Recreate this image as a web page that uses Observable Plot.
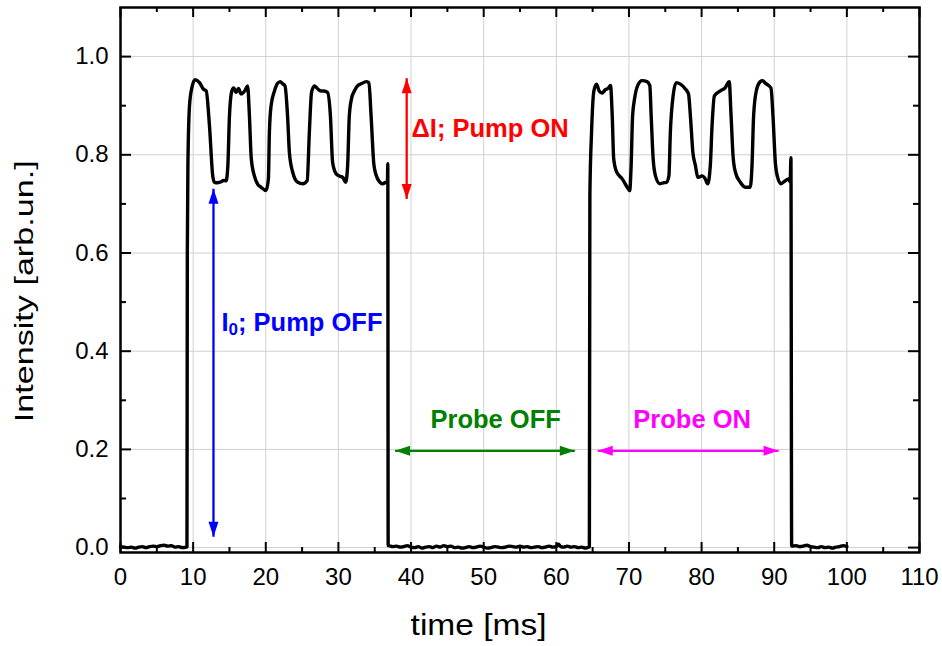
<!DOCTYPE html>
<html>
<head>
<meta charset="utf-8">
<script src="https://cdn.jsdelivr.net/npm/d3@7"></script>
<script src="https://cdn.jsdelivr.net/npm/@observablehq/plot@0.6"></script>
<style>
  html, body { margin: 0; padding: 0; background: #fff; }
  #chart { width: 942px; height: 646px; }
</style>
</head>
<body>
<div id="chart"></div>
<script>
// ---------- data (time in ms, intensity in arb. units) ----------
const baselineBefore = [[0,0.002],[0.5,0.001],[1,0.000],[1.5,0.001],[2,-0.001],[2.5,0.001],[3,0.002],[3.5,0.000],[4,0.002],[4.5,0.003],[5,0.002],[5.5,0.004],[6,0.005],[6.5,0.003],[7,0.004],[7.5,0.001],[8,0.002],[8.5,0.000],[9.1,0.001]];
const pulse1 = [[9.15,0.002],[9.2,0.60],[9.28,0.78],[9.5,0.90],[9.83,0.937],[10.28,0.953],[10.88,0.947],[11.4,0.934],[11.8,0.93],[12.25,0.859],[12.7,0.757],[12.94,0.744],[13.4,0.743],[13.86,0.745],[14.2,0.748],[14.54,0.747],[14.78,0.778],[15.0,0.879],[15.33,0.93],[15.6,0.936],[15.9,0.927],[16.25,0.935],[16.6,0.924],[17.1,0.93],[17.5,0.94],[17.75,0.879],[18.0,0.793],[18.43,0.757],[18.9,0.74],[19.35,0.734],[20.04,0.727],[20.36,0.751],[20.5,0.846],[20.73,0.90],[21.2,0.93],[21.6,0.945],[22.0,0.949],[22.3,0.945],[22.65,0.94],[23.0,0.879],[23.25,0.805],[23.7,0.765],[24.4,0.744],[25.1,0.741],[25.7,0.747],[26.0,0.846],[26.3,0.927],[26.7,0.94],[27.1,0.935],[27.6,0.93],[28.0,0.93],[28.5,0.927],[28.9,0.879],[29.2,0.785],[29.66,0.762],[30.1,0.757],[30.6,0.754],[31.0,0.744],[31.27,0.778],[31.5,0.879],[31.8,0.914],[32.2,0.93],[32.6,0.94],[33.2,0.945],[33.8,0.949],[34.2,0.947],[34.5,0.879],[34.9,0.778],[35.4,0.751],[36.1,0.741],[36.5,0.744],[36.75,0.745],[36.8,0.782],[36.85,0.004]];
const baselineBetween = [[36.9,0.004],[37.5,0.002],[38,0.003],[38.5,0.001],[39,0.002],[39.5,0.004],[40,0.001],[40.5,0.000],[41,0.002],[41.5,-0.001],[42,0.001],[42.5,0.002],[43,0.000],[43.5,0.003],[44,0.001],[44.5,0.004],[45,0.002],[45.5,0.003],[46,0.000],[46.5,0.001],[47,-0.001],[47.5,0.000],[48,0.002],[48.5,0.000],[49,0.001],[49.5,0.003],[50,0.001],[50.5,-0.001],[51,0.000],[51.5,0.002],[52,0.001],[52.5,0.000],[53,0.001],[53.5,0.003],[54,0.002],[54.5,0.001],[55,0.003],[55.5,0.001],[56,0.002],[56.5,0.000],[57,0.001],[57.5,0.002],[58,0.000],[58.5,0.001],[59,0.003],[59.5,0.001],[60,0.002],[60.3,0.007],[60.6,0.002],[61,0.001],[61.5,0.003],[62,0.001],[62.5,0.002],[63,0.000],[63.5,0.001],[64,-0.001],[64.5,0.001]];
const pulse2 = [[64.55,0.001],[64.62,0.717],[64.85,0.846],[65.17,0.93],[65.54,0.944],[65.9,0.93],[66.3,0.926],[66.78,0.933],[67.1,0.935],[67.46,0.941],[67.7,0.879],[67.9,0.792],[68.3,0.765],[69.07,0.751],[69.76,0.734],[70.1,0.727],[70.3,0.778],[70.5,0.879],[70.77,0.914],[71.2,0.941],[71.8,0.951],[72.5,0.949],[72.87,0.941],[73.06,0.879],[73.33,0.792],[73.65,0.757],[74.25,0.741],[74.7,0.743],[75.16,0.744],[75.5,0.757],[75.7,0.846],[76.08,0.92],[76.5,0.947],[77.08,0.944],[77.77,0.934],[78.2,0.924],[78.46,0.879],[78.8,0.805],[79.15,0.778],[79.47,0.754],[80.07,0.757],[80.5,0.751],[80.84,0.741],[81.2,0.778],[81.44,0.859],[81.76,0.92],[82.58,0.93],[83.27,0.937],[83.8,0.949],[84.06,0.879],[84.33,0.798],[84.65,0.765],[85.33,0.744],[86.0,0.734],[86.7,0.734],[86.94,0.778],[87.16,0.879],[87.53,0.93],[88.08,0.949],[88.4,0.951],[88.77,0.946],[89.55,0.936],[89.83,0.879],[90.15,0.785],[90.47,0.754],[90.93,0.741],[91.5,0.747],[91.97,0.751],[92.2,0.745],[92.3,0.794],[92.4,0.003]];
const baselineAfter = [[92.45,0.003],[93,0.004],[93.5,0.002],[94,0.003],[94.5,0.005],[95,0.002],[95.5,0.001],[96,0.000],[96.5,0.002],[97,0.000],[97.5,0.001],[98,-0.001],[98.5,0.001],[99,0.002],[99.5,0.004],[100,0.002]];

// axis ticks
const xMajorTicks = [0,10,20,30,40,50,60,70,80,90,100,110];
const xMinorTicks = [5,15,25,35,45,55,65,75,85,95,105];
const yMajorTicks = [0,0.2,0.4,0.6,0.8,1.0];
const yMinorTicks = [0.1,0.3,0.5,0.7,0.9];

// annotations
const annoLabels = ["ΔI; Pump ON", "I0; Pump OFF", "Probe OFF", "Probe ON"];
const annoColors = ["#ff0000", "#0000ff", "#008000", "#ff00ff"];
const annoLabelX = [40.06, 13.9, 51.65, 78.7];
const annoLabelY = [0.853, 0.457, 0.26, 0.26];
const annoAnchor = ["start", "start", "middle", "middle"];
const arrowX1 = [39.4, 12.8, 37.8, 65.7];
const arrowY1 = [0.710, 0.022, 0.197, 0.197];
const arrowX2 = [39.4, 12.8, 62.55, 90.6];
const arrowY2 = [0.956, 0.731, 0.197, 0.197];

const axisTitleX = "time [ms]";
const axisTitleY = "Intensity [arb.un.]";

// ---------- build ----------
const trace = [...baselineBefore, ...pulse1, ...baselineBetween, ...pulse2, ...baselineAfter]
  .map(([t, v]) => ({t, v}));

const W = 942, H = 646, mL = 120, mR = 23, mT = 7, mB = 94;
const plotW = W - mL - mR, plotH = H - mT - mB;

// filled, elongated arrowhead with its tip at the origin, pointing up
const headSymbol = {
  draw(ctx) {
    ctx.moveTo(0, 0);
    ctx.lineTo(5, 15);
    ctx.lineTo(-5, 15);
    ctx.closePath();
  }
};

const annoMarks = [];
annoLabels.forEach((label, i) => {
  const c = annoColors[i];
  annoMarks.push(Plot.link([i], {
    x1: () => arrowX1[i], y1: () => arrowY1[i], x2: () => arrowX2[i], y2: () => arrowY2[i],
    stroke: c, strokeWidth: 2.3
  }));
  const vertical = arrowX1[i] === arrowX2[i];
  const heads = [
    {x: arrowX1[i], y: arrowY1[i], r: vertical ? (arrowY1[i] < arrowY2[i] ? 180 : 0) : (arrowX1[i] < arrowX2[i] ? -90 : 90)},
    {x: arrowX2[i], y: arrowY2[i], r: vertical ? (arrowY2[i] > arrowY1[i] ? 0 : 180) : (arrowX2[i] > arrowX1[i] ? 90 : -90)}
  ];
  annoMarks.push(Plot.dot(heads, {x: "x", y: "y", rotate: "r", symbol: headSymbol, fill: c, stroke: "none", r: 5}));
  annoMarks.push(Plot.text([label], {
    x: () => annoLabelX[i], y: () => annoLabelY[i], text: d => d,
    fill: c, fontSize: 25.5, fontWeight: "bold", textAnchor: annoAnchor[i], lineAnchor: "middle"
  }));
});

const chart = Plot.plot({
  width: W, height: H,
  marginLeft: mL, marginRight: mR, marginTop: mT, marginBottom: mB,
  x: {domain: [0, 110]},
  y: {domain: [-0.01, 1.1]},
  style: {fontFamily: "'Liberation Sans', Arial, sans-serif", background: "#fff", color: "#000", overflow: "visible"},
  marks: [
    Plot.gridX(xMajorTicks, {stroke: "#d0d0d0", strokeOpacity: 1, strokeWidth: 1}),
    Plot.gridY(yMajorTicks, {stroke: "#d0d0d0", strokeOpacity: 1, strokeWidth: 1}),
    Plot.line(trace, {x: "t", y: "v", stroke: "#000", strokeWidth: 3.4, strokeLinejoin: "round", curve: "monotone-x"}),
    ...annoMarks,
    // inward ticks on all four sides
    Plot.tickX(xMajorTicks, {x: d => d, stroke: "#000", strokeWidth: 2, insetTop: plotH - 10}),
    Plot.tickX(xMinorTicks, {x: d => d, stroke: "#000", strokeWidth: 2, insetTop: plotH - 5}),
    Plot.tickX(xMajorTicks, {x: d => d, stroke: "#000", strokeWidth: 2, insetBottom: plotH - 10}),
    Plot.tickX(xMinorTicks, {x: d => d, stroke: "#000", strokeWidth: 2, insetBottom: plotH - 5}),
    Plot.tickY(yMajorTicks, {y: d => d, stroke: "#000", strokeWidth: 2, insetRight: plotW - 11}),
    Plot.tickY(yMinorTicks, {y: d => d, stroke: "#000", strokeWidth: 2, insetRight: plotW - 6}),
    Plot.tickY(yMajorTicks, {y: d => d, stroke: "#000", strokeWidth: 2, insetLeft: plotW - 11}),
    Plot.tickY(yMinorTicks, {y: d => d, stroke: "#000", strokeWidth: 2, insetLeft: plotW - 6}),
    Plot.frame({stroke: "#000", strokeWidth: 2.5}),
    Plot.axisX(xMajorTicks, {tickSize: 0, tickPadding: 15, fontSize: 24, label: null, tickFormat: d3.format("d")}),
    Plot.axisY(yMajorTicks, {tickSize: 0, tickPadding: 12, fontSize: 24, label: null, tickFormat: d3.format(".1f")}),
    Plot.text([axisTitleX], {x: 49.3, frameAnchor: "bottom", dy: 73.7, text: d => d, fontSize: 29, lineAnchor: "middle", textAnchor: "middle", fill: "#000"}),
    Plot.text([axisTitleY], {y: 0.522, frameAnchor: "left", dx: -96.3, rotate: -90, text: d => d, fontSize: 26, lineAnchor: "middle", textAnchor: "middle", fill: "#000"})
  ]
});

document.getElementById("chart").appendChild(chart);

// post-process: stretch axis titles to the reference's lengths, add subscript to I0
d3.select(chart).selectAll("text").each(function () {
  const t = this.textContent;
  if (t === axisTitleY) {
    this.setAttribute("textLength", 262);
    this.setAttribute("lengthAdjust", "spacingAndGlyphs");
  } else if (t === axisTitleX) {
    this.setAttribute("textLength", 136);
    this.setAttribute("lengthAdjust", "spacingAndGlyphs");
  } else if (t === "I0; Pump OFF") {
    const sel = d3.select(this);
    sel.text(null);
    sel.append("tspan").text("I");
    sel.append("tspan").attr("dy", 4).attr("font-size", 17).text("0");
    sel.append("tspan").attr("dy", -4).text("; Pump OFF");
  }
});
</script>
</body>
</html>
